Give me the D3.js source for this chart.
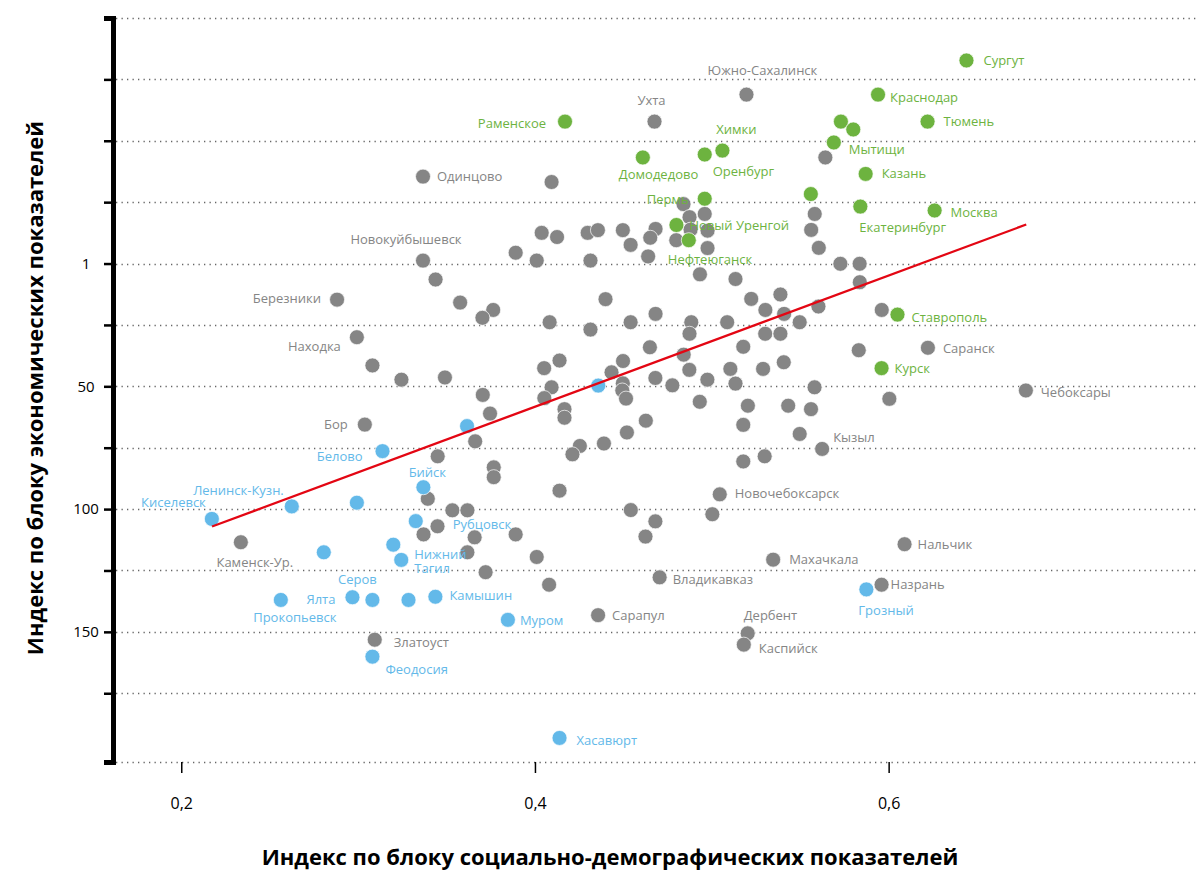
<!DOCTYPE html>
<html>
<head>
<meta charset="utf-8">
<script src="https://cdn.jsdelivr.net/npm/d3@7"></script>
<style>
  body { margin: 0; background: #fff; }
  svg { display: block; font-family: "Open Sans", sans-serif; }
</style>
</head>
<body>
<svg id="chart" width="1196" height="870"></svg>
<script>
// ---- data ----
// x: social-demographic index, y: economic index position (axis label "1" sits at 0)

// leaders (green)
const greenNames = ["Сургут", "Краснодар", "Тюмень", "Раменское", "", "", "Мытищи", "Химки", "Оренбург",
  "Домодедово", "Казань", "Пермь", "", "Екатеринбург", "Москва", "Новый Уренгой", "Нефтеюганск",
  "Ставрополь", "Курск"];
const greenX = [0.644, 0.594, 0.622, 0.417, 0.573, 0.580, 0.569, 0.506, 0.496, 0.461, 0.587, 0.496,
  0.556, 0.584, 0.626, 0.480, 0.487, 0.605, 0.596];
const greenY = [-82.7, -68.8, -57.8, -57.8, -57.8, -54.6, -49.3, -46.0, -44.4, -43.2, -36.5, -26.4,
  -28.3, -23.2, -21.6, -15.7, -9.5, 20.8, 42.6];

// outsiders (blue)
const blueNames = ["Киселевск", "Ленинск-Кузн.", "", "Белово", "Бийск", "", "", "Рубцовск", "", "",
  "Нижний Тагил", "Прокопьевск", "Ялта", "Серов", "", "Камышин", "Муром", "Феодосия", "Грозный", "Хасавюрт"];
const blueX = [0.2173, 0.2625, 0.2993, 0.3138, 0.3369, 0.3616, 0.4358, 0.3326, 0.2806, 0.3199,
  0.3244, 0.2563, 0.2968, 0.3081, 0.3285, 0.3437, 0.3847, 0.3081, 0.5874, 0.4139];
const blueY = [104.0, 98.9, 97.4, 76.4, 91.1, 66.2, 49.7, 104.9, 117.6, 114.5,
  120.7, 137.0, 135.9, 137.0, 137.0, 135.7, 145.1, 160.1, 132.7, 193.2];

// everyone else (gray), labelled ones first
const grayNames = ["Южно-Сахалинск", "Ухта", "Одинцово", "Новокуйбышевск", "Березники", "Находка", "Бор",
  "Каменск-Ур.", "Златоуст", "Владикавказ", "Махачкала", "Нальчик", "Назрань", "Сарапул", "Дербент",
  "Каспийск", "Кызыл", "Новочебоксарск", "Саранск", "Чебоксары"];
const grayX = [0.5196, 0.4676, 0.3367, 0.3367, 0.2881, 0.2993, 0.3038, 0.2337, 0.3094, 0.4705,
  0.5347, 0.6090, 0.5960, 0.4357, 0.5203, 0.5181, 0.5624, 0.5045, 0.6222, 0.6776,
  // unlabelled
  0.4094, 0.5642, 0.4038, 0.4125, 0.4298, 0.4356, 0.4497, 0.4541, 0.3891, 0.4010,
  0.4314, 0.3438, 0.3577, 0.3764, 0.3703, 0.4399, 0.4083, 0.4314, 0.4541, 0.4840,
  0.4874, 0.4960, 0.4682, 0.4652, 0.4799, 0.4880, 0.4976, 0.4976, 0.4640, 0.4933,
  0.5134, 0.5582, 0.5562, 0.5605, 0.5727, 0.5836, 0.5837, 0.5223, 0.5388, 0.5303,
  0.5409, 0.5603, 0.5497, 0.5961, 0.4682, 0.4884, 0.4874, 0.5087, 0.5302, 0.5388,
  0.3081, 0.3245, 0.3491, 0.3705, 0.3746, 0.3662, 0.3450, 0.3767, 0.3767, 0.3394,
  0.3533, 0.3618, 0.3449, 0.4052, 0.4139, 0.4094, 0.4053, 0.4167, 0.4167, 0.4498,
  0.4433, 0.4497, 0.4494, 0.4515, 0.4520, 0.4390, 0.4254, 0.4212, 0.4139, 0.4650,
  0.4841, 0.5178, 0.5831, 0.4873, 0.5105, 0.5290, 0.5407, 0.4681, 0.4777, 0.4975,
  0.5134, 0.5581, 0.4932, 0.6004, 0.5204, 0.5432, 0.5561, 0.4627, 0.5178, 0.5497,
  0.5178, 0.5299, 0.4542, 0.5003, 0.4681, 0.4625, 0.3370, 0.3659, 0.3891, 0.3618,
  0.4010, 0.3721, 0.4080];
const grayY = [-68.8, -57.8, -35.4, -1.2, 14.7, 30.0, 65.6, 113.5, 153.2, 127.8,
  120.6, 114.3, 130.8, 143.2, 150.6, 155.2, 75.5, 94.0, 34.3, 51.7,
  -33.2, -43.2, -12.5, -10.8, -12.5, -13.6, -13.6, -7.6, -4.4, -1.2,
  -1.2, 6.5, 15.9, 18.9, 22.1, 14.5, 23.9, 26.9, 23.9, -24.2,
  -18.9, -20.2, -14.1, -10.5, -9.5, -13.8, -13.4, -6.3, -2.9, 4.4,
  6.3, -20.2, -13.7, -6.4, 0.1, 0.1, 7.6, 14.4, 12.6, 18.9,
  20.5, 17.5, 23.9, 18.9, 20.5, 23.9, 28.6, 23.9, 28.6, 28.6,
  41.5, 47.3, 46.4, 53.5, 61.1, 72.4, 78.5, 83.0, 87.0, 95.8,
  100.5, 100.5, 107.0, 42.6, 39.5, 50.4, 54.8, 59.3, 62.8, 39.7,
  44.3, 48.8, 51.7, 55.0, 68.8, 73.3, 74.3, 77.7, 92.5, 34.1,
  37.1, 33.9, 35.3, 43.3, 42.9, 42.9, 40.2, 46.6, 49.6, 47.3,
  48.9, 50.4, 56.3, 55.1, 57.9, 57.9, 59.3, 64.0, 65.7, 69.4,
  80.6, 78.5, 100.4, 102.1, 105.0, 111.2, 110.3, 111.5, 110.3, 117.6,
  119.5, 125.7, 130.8];

// trend line end points
const trendX = [0.2174, 0.6778];
const trendY = [107.1, -15.9];

// axes
const xTicks = [0.2, 0.4, 0.6];
const yGrid = [-100, -75, -50, -25, 0, 25, 50, 75, 100, 125, 150, 175];
const yTickValues = [0, 50, 100, 150];
const yTickLabels = ["1", "50", "100", "150"];
const xTitle = "Индекс по блоку социально-демографических показателей";
const yTitle = "Индекс по блоку экономических показателей";

// label placement: dx, dy, anchor, split into lines
const labelPlacement = {
  "Сургут": [17, 0, "start"], "Краснодар": [12, 3, "start"], "Тюмень": [16, 0, "start"],
  "Раменское": [-19, 2, "end"], "Мытищи": [15, 7, "start"], "Химки": [14, -21, "middle"],
  "Оренбург": [8, 17, "start"], "Домодедово": [-24, 17, "start"], "Казань": [16, 0, "start"],
  "Пермь": [-16, 1, "end"], "Екатеринбург": [-1, 21, "start"], "Москва": [16, 2, "start"],
  "Новый Уренгой": [13, 0, "start"], "Нефтеюганск": [-21, 19, "start"], "Ставрополь": [14, 3, "start"],
  "Курск": [13, 0, "start"], "Южно-Сахалинск": [16, -24, "middle"], "Ухта": [-3, -21, "middle"],
  "Одинцово": [14, 0, "start"], "Новокуйбышевск": [-17, -21, "middle"], "Березники": [-16, -1, "end"],
  "Находка": [-16, 9, "end"], "Бор": [-17, 0, "end"], "Белово": [-20, 5, "end"],
  "Бийск": [4, -15, "middle"], "Ленинск-Кузн.": [-8, -16, "end"], "Киселевск": [-6, -16, "end"],
  "Рубцовск": [37, 3, "start"], "Каменск-Ур.": [14, 20, "middle"], "Нижний Тагил": [13, 2, "start", true],
  "Прокопьевск": [14, 18, "middle"], "Ялта": [-17, 2, "end"], "Серов": [-15, -20, "middle"],
  "Камышин": [14, -1, "start"], "Муром": [12, 1, "start"], "Златоуст": [19, 3, "start"],
  "Феодосия": [13, 13, "start"], "Сарапул": [14, 0, "start"], "Владикавказ": [13, 2, "start"],
  "Махачкала": [16, 0, "start"], "Нальчик": [13, 0, "start"], "Назрань": [9, 0, "start"],
  "Грозный": [-8, 21, "start"], "Дербент": [-4, -18, "start"], "Каспийск": [15, 4, "start"],
  "Хасавюрт": [17, 3, "start"], "Кызыл": [11, -11, "start"], "Новочебоксарск": [15, -1, "start"],
  "Саранск": [15, 1, "start"], "Чебоксары": [15, 2, "start"]
};

const colors = { gray: "#858585", green: "#6db33f", blue: "#63b9e9" };

// helper: zip parallel arrays into point objects
function to_points(names, xs, ys, group) {
  return xs.map((x, i) => ({ name: names[i] || "", x, y: ys[i], group }));
}

const points = [].concat(
  to_points(grayNames, grayX, grayY, "gray"),
  to_points(greenNames, greenX, greenY, "green"),
  to_points(blueNames, blueX, blueY, "blue")
);

// ---- chart ----
const svg = d3.select("#chart");
const plotLeft = 113, plotRight = 1196, plotTop = 18, plotBottom = 762;

const x = d3.scaleLinear().domain([0.1614, 0.7738]).range([plotLeft, plotRight]);
const y = d3.scaleLinear().domain([-100, 203]).range([plotTop, plotBottom]);

// dotted grid
svg.append("g")
  .selectAll("line")
  .data(yGrid.concat([203]))
  .enter()
  .append("line")
  .attr("x1", plotLeft + 3)
  .attr("x2", plotRight)
  .attr("y1", d => Math.round(y(d)) + 0.5)
  .attr("y2", d => Math.round(y(d)) + 0.5)
  .attr("stroke", "#666")
  .attr("stroke-width", 1.3)
  .attr("stroke-dasharray", "1.3 4.2");

// y axis: thick bar with ticks at every grid line
const yAxis = svg.append("g")
  .attr("transform", `translate(${plotLeft},0)`)
  .call(d3.axisLeft(y).tickValues(yGrid).tickSize(9).tickSizeOuter(9).tickFormat(""));
yAxis.select(".domain").attr("stroke", "#000").attr("stroke-width", 5);
yAxis.selectAll(".tick line").attr("stroke", "#000").attr("stroke-width", 2.5);

svg.append("g")
  .selectAll("text")
  .data(yTickValues)
  .enter()
  .append("text")
  .attr("x", 86)
  .attr("y", d => y(d))
  .attr("dy", "0.35em")
  .attr("text-anchor", "middle")
  .attr("font-size", 15)
  .attr("fill", "#000")
  .text((d, i) => yTickLabels[i]);

// x axis ticks and labels
const xAxis = svg.append("g")
  .attr("transform", `translate(0,${plotBottom})`)
  .call(d3.axisBottom(x).tickValues(xTicks).tickSize(11).tickPadding(0)
    .tickFormat(d => d3.format(".1f")(d).replace(".", ",")));
xAxis.select(".domain").remove();
xAxis.selectAll(".tick line").attr("stroke", "#000").attr("stroke-width", 1.5);
xAxis.selectAll(".tick text")
  .attr("y", 41)
  .attr("dy", "0.35em")
  .attr("font-family", "Open Sans, sans-serif")
  .attr("font-size", 16)
  .attr("fill", "#000");

// axis titles
svg.append("text")
  .attr("x", 610)
  .attr("y", 857)
  .attr("dy", "0.35em")
  .attr("text-anchor", "middle")
  .attr("font-size", 22)
  .attr("font-weight", "bold")
  .attr("fill", "#000")
  .text(xTitle);

svg.append("text")
  .attr("transform", "translate(35,388) rotate(-90)")
  .attr("dy", "0.35em")
  .attr("text-anchor", "middle")
  .attr("font-size", 22)
  .attr("font-weight", "bold")
  .attr("fill", "#000")
  .text(yTitle);

// points
svg.append("g")
  .selectAll("circle")
  .data(points)
  .enter()
  .append("circle")
  .attr("cx", d => x(d.x))
  .attr("cy", d => y(d.y))
  .attr("r", 7.5)
  .attr("fill", d => colors[d.group])
  .attr("stroke", "#fff")
  .attr("stroke-width", 0.7);

// trend line
svg.append("line")
  .attr("x1", x(trendX[0]))
  .attr("y1", y(trendY[0]))
  .attr("x2", x(trendX[1]))
  .attr("y2", y(trendY[1]))
  .attr("stroke", "#e30613")
  .attr("stroke-width", 2.2);

// labels on top of everything
const labelled = points.filter(d => d.name && labelPlacement[d.name]);
const labels = svg.append("g")
  .selectAll("text")
  .data(labelled)
  .enter()
  .append("text")
  .attr("font-size", 13)
  .attr("fill", d => colors[d.group])
  .attr("text-anchor", d => labelPlacement[d.name][2]);

labels.each(function(d) {
  const p = labelPlacement[d.name];
  const lines = p[3] ? d.name.split(" ") : [d.name];
  const cx = x(d.x) + p[0];
  const cy = y(d.y) + p[1];
  d3.select(this)
    .selectAll("tspan")
    .data(lines)
    .enter()
    .append("tspan")
    .attr("x", cx)
    .attr("y", (l, i) => cy + (i - (lines.length - 1) / 2) * 14)
    .attr("dy", "0.35em")
    .text(l => l);
});
</script>
</body>
</html>
